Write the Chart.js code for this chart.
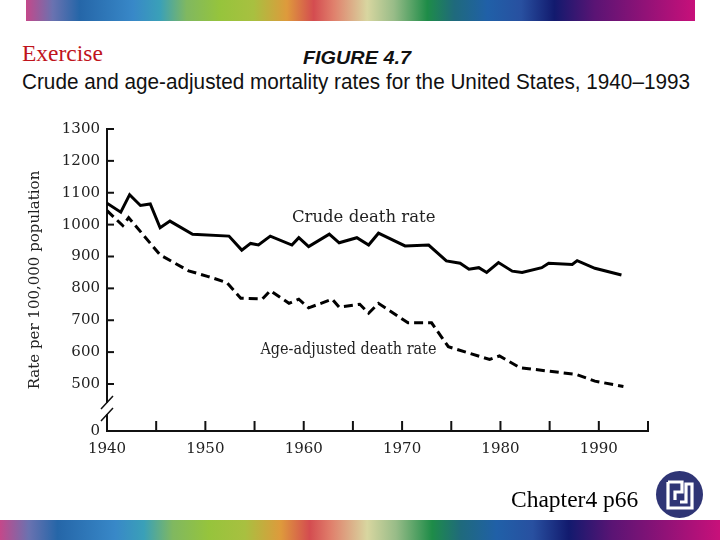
<!DOCTYPE html>
<html>
<head>
<meta charset="utf-8">
<script src="https://cdn.jsdelivr.net/npm/chart.js@4.4.0/dist/chart.umd.min.js"></script>
<style>
  html, body { margin: 0; padding: 0; background: #fff; }
  body { width: 720px; height: 540px; position: relative; overflow: hidden; }
  .bar {
    position: absolute;
    background: linear-gradient(to right, #c4488a 0%, #6a72b0 4%, #2566a8 8%, #3888c8 16%, #3aa0b8 20%,
      #80b860 24%, #96c43c 29%, #a8c040 34%, #de9a3c 39%, #d44c50 43%, #e0806c 46%, #d8d6a0 51%,
      #98bc88 55%, #1e8c48 60%, #1f6a7c 64%, #2060a8 69%, #2850a0 74%, #121a6e 79%, #5a1474 85%, #c8107a 100%);
  }
  #topBar { left: 26px; top: 0; width: 669px; height: 21px; }
  #bottomBar { left: 0; top: 520px; width: 720px; height: 20px; }
  .txt { position: absolute; white-space: nowrap; line-height: 1; }
  #exercise { left: 22px; top: 40px; font: 23.5px "Liberation Serif", serif; color: #c0141c; }
  #figNo { left: 357px; top: 47px; font: italic bold 19px "Liberation Sans", sans-serif; color: #111; transform-origin: left top; }
  #subtitle { left: 22px; top: 69px; font: 22px "Liberation Sans", sans-serif; color: #111; transform-origin: left top; }
  #chapter { left: 511px; top: 486px; font: 23.5px "Liberation Serif", serif; color: #000; }
  #logo { position: absolute; left: 655px; top: 470px; }
  #chart { position: absolute; left: 0; top: 0; }
</style>
</head>
<body>
<div class="bar" id="topBar"></div>
<div class="txt" id="exercise">Exercise</div>
<div class="txt" id="figNo">FIGURE 4.7</div>
<div class="txt" id="subtitle">Crude and age-adjusted mortality rates for the United States, 1940–1993</div>
<canvas id="chart" width="720" height="540"></canvas>
<div class="txt" id="chapter">Chapter4 p66</div>
<svg id="logo" width="50" height="50" viewBox="0 0 50 50">
  <circle cx="24.5" cy="24.5" r="23.5" fill="#2f3575"/>
  <path d="M13 12 H27 V22 H20 V30 M13 12 V38 H37 V14 H31 V32 H25" fill="none" stroke="#fff" stroke-width="3.2"/>
</svg>
<div class="bar" id="bottomBar"></div>

<script>
// values (rate per 100,000)
const crudeYears = [1940, 1941.4, 1942.3, 1943.4, 1944.4, 1945.4, 1946.4, 1948.7, 1952.4, 1953.7, 1954.6,
  1955.4, 1956.6, 1958.8, 1959.5, 1960.5, 1962.6, 1963.6, 1965.4, 1966.6, 1967.6, 1970.3, 1972.7, 1974.5,
  1975.9, 1976.8, 1977.8, 1978.6, 1979.8, 1981.2, 1982.2, 1984.2, 1984.9, 1987.3, 1987.8, 1989.6, 1992.3];
const crudeRates = [1067, 1039, 1094, 1060, 1065, 990, 1011, 970, 964, 920, 941,
  936, 964, 936, 959, 931, 970, 943, 959, 936, 973, 933, 936, 886,
  879, 860, 865, 850, 881, 854, 850, 865, 879, 875, 887, 863, 842];

const adjYears = [1940, 1941.6, 1942.2, 1945.4, 1948.3, 1950.3, 1952.2, 1953.6, 1955.8, 1956.6, 1958.5,
  1959.5, 1960.5, 1962.9, 1963.6, 1965.7, 1966.6, 1967.6, 1970.6, 1973, 1974.7, 1978.9, 1979.9, 1982,
  1987.7, 1989.6, 1992.5];
const adjRates = [1044, 997, 1022, 905, 855, 837, 818, 769, 767, 793, 753,
  766, 739, 766, 741, 750, 722, 753, 692, 692, 617, 577, 588, 551,
  530, 509, 492];

const yTickValues = [500, 600, 700, 800, 900, 1000, 1100, 1200, 1300];
const yFloor = 352.5;   // bottom of the broken axis, shown as "0"

const toPoints = (xs, ys) => xs.map((x, i) => ({ x: x, y: ys[i] }));

const tickFont = { family: 'DejaVu Serif', size: 15 };

// inward tick marks, axis break and the two line labels
const axisDecor = {
  id: 'axisDecor',
  afterDraw(chart) {
    const { ctx } = chart;
    const x = chart.scales.x, y = chart.scales.y;
    ctx.save();
    ctx.strokeStyle = '#111';
    ctx.lineWidth = 2;
    y.ticks.forEach(t => {
      const py = y.getPixelForValue(t.value);
      ctx.beginPath(); ctx.moveTo(x.left, py); ctx.lineTo(x.left + 7, py); ctx.stroke();
    });
    x.ticks.forEach(t => {
      const px = x.getPixelForValue(t.value);
      ctx.beginPath(); ctx.moveTo(px, y.bottom); ctx.lineTo(px, y.bottom - 10); ctx.stroke();
    });
    // break in the y axis
    ctx.fillStyle = '#fff';
    ctx.fillRect(x.left - 2, y.bottom - 28, 4, 11);
    ctx.lineWidth = 1.5;
    ctx.beginPath();
    ctx.moveTo(x.left - 6, y.bottom - 22); ctx.lineTo(x.left + 6, y.bottom - 35);
    ctx.moveTo(x.left - 6, y.bottom - 10); ctx.lineTo(x.left + 6, y.bottom - 23);
    ctx.stroke();

    ctx.fillStyle = '#222';
    ctx.font = '16.5px "DejaVu Serif"';
    ctx.textAlign = 'left';
    ctx.textBaseline = 'middle';
    ctx.fillText('Crude death rate', x.getPixelForValue(1958.8), y.getPixelForValue(1022), 154);
    ctx.fillText('Age-adjusted death rate', x.getPixelForValue(1955.6), y.getPixelForValue(606), 176);
    ctx.restore();
  }
};

new Chart(document.getElementById('chart'), {
  type: 'line',
  data: {
    datasets: [{
      label: 'Crude death rate',
      data: toPoints(crudeYears, crudeRates),
      borderColor: '#000',
      borderWidth: 3,
      pointRadius: 0,
      tension: 0,
    }, {
      label: 'Age-adjusted death rate',
      data: toPoints(adjYears, adjRates),
      borderColor: '#000',
      borderWidth: 3,
      borderDash: [9, 5],
      pointRadius: 0,
      tension: 0,
    }],
  },
  options: {
    responsive: false,
    animation: false,
    layout: { padding: { left: 20, top: 129, right: 72, bottom: 79 } },
    plugins: {
      legend: { display: false },
      tooltip: { enabled: false },
    },
    scales: {
      x: {
        type: 'linear',
        min: 1940,
        max: 1995,
        grid: { drawOnChartArea: false, drawTicks: false },
        border: { color: '#111', width: 2 },
        ticks: {
          stepSize: 5,
          autoSkip: false,
          maxRotation: 0,
          padding: 9,
          color: '#222',
          font: tickFont,
          callback: v => (v % 10 === 0 ? String(v) : ''),
        },
        afterFit: scale => { scale.height = 30; },
      },
      y: {
        min: yFloor,
        max: 1300,
        grid: { drawOnChartArea: false, drawTicks: false },
        border: { color: '#111', width: 2 },
        afterBuildTicks: scale => {
          scale.ticks = [yFloor, ...yTickValues].map(v => ({ value: v }));
        },
        ticks: {
          padding: 7,
          color: '#222',
          font: tickFont,
          callback: v => (v === yFloor ? '0' : String(v)),
        },
        title: {
          display: true,
          text: 'Rate per 100,000 population',
          color: '#222',
          font: tickFont,
          padding: { top: 6, bottom: 0 },
        },
        afterFit: scale => { scale.width = 87; },
      },
    },
  },
  plugins: [axisDecor],
});

// squeeze the headings to the width they take in the figure
function fitWidth(id, target) {
  const el = document.getElementById(id);
  const w = el.getBoundingClientRect().width;
  el.style.transform = 'scaleX(' + (target / w) + ')';
  return el;
}
fitWidth('subtitle', 668);
const fig = fitWidth('figNo', 108);
fig.style.left = (357 - 54) + 'px';
</script>
</body>
</html>
